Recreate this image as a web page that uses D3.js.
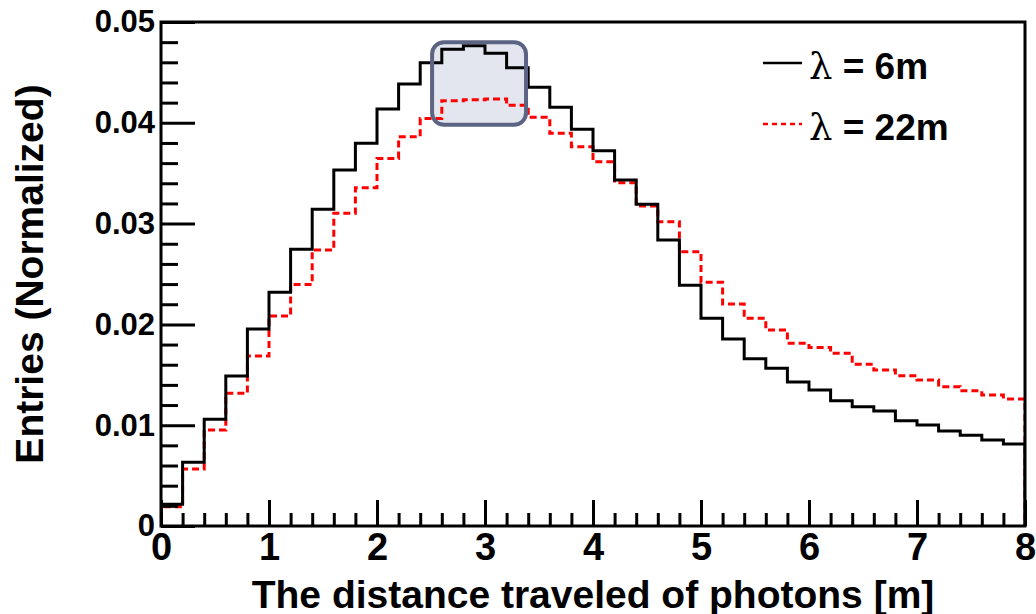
<!DOCTYPE html>
<html>
<head>
<meta charset="utf-8">
<script src="https://d3js.org/d3.v7.min.js"></script>
<style>
  body { margin: 0; background: #ffffff; }
  text { font-family: "Liberation Sans", Arial, Helvetica, sans-serif; font-weight: bold; fill: #000; }
</style>
</head>
<body>
<div id="chart"></div>
<script>
// bin lower edges (bin width 0.2 m)
var binLow = [0.0, 0.2, 0.4, 0.6, 0.8, 1.0, 1.2, 1.4, 1.6, 1.8,
  2.0, 2.2, 2.4, 2.6, 2.8, 3.0, 3.2, 3.4, 3.6, 3.8,
  4.0, 4.2, 4.4, 4.6, 4.8, 5.0, 5.2, 5.4, 5.6, 5.8,
  6.0, 6.2, 6.4, 6.6, 6.8, 7.0, 7.2, 7.4, 7.6, 7.8];
var binWidth = 0.2;

// lambda = 6m
var lambda6 = [0.00215, 0.00632, 0.01058, 0.01488, 0.01954, 0.02318, 0.02745, 0.03142, 0.03532, 0.03796,
  0.04137, 0.04385, 0.04596, 0.04729, 0.04765, 0.04689, 0.04547, 0.04352, 0.04154, 0.03935,
  0.03723, 0.03433, 0.03192, 0.02837, 0.02388, 0.02060, 0.01855, 0.01660, 0.01564, 0.01429,
  0.01349, 0.01243, 0.01184, 0.01141, 0.01045, 0.01002, 0.00942, 0.00900, 0.00853, 0.00813];

// lambda = 22m
var lambda22 = [0.00190, 0.00565, 0.00952, 0.01316, 0.01687, 0.02083, 0.02395, 0.02738, 0.03102, 0.03356,
  0.03647, 0.03862, 0.04042, 0.04219, 0.04229, 0.04236, 0.04173, 0.04054, 0.03896, 0.03763,
  0.03614, 0.03406, 0.03175, 0.03019, 0.02721, 0.02417, 0.02202, 0.02060, 0.01944, 0.01812,
  0.01772, 0.01713, 0.01604, 0.01548, 0.01491, 0.01448, 0.01382, 0.01343, 0.01300, 0.01260];

var xTicks = [0, 1, 2, 3, 4, 5, 6, 7, 8];
var yTicks = [0, 0.01, 0.02, 0.03, 0.04, 0.05];
var legendLabels = ["6m", "22m"];
var highlightRange = [2.51, 3.38];  // x range of the boxed peak region
var highlightLevel = [0.0480, 0.0398];

var svgWidth = 1036;
var svgHeight = 614;

var margin = { top: 22, right: 11, bottom: 88, left: 161 };
var width = svgWidth - margin.left - margin.right;
var height = svgHeight - margin.top - margin.bottom;

var svg = d3.select("#chart")
  .append("svg")
  .attr("width", svgWidth)
  .attr("height", svgHeight);

var chartGroup = svg.append("g")
  .attr("transform", `translate(${margin.left}, ${margin.top})`);

// scales
var xScale = d3.scaleLinear().domain([0, 8]).range([0, width]);
var yScale = d3.scaleLinear().domain([0, 0.05]).range([height, 0]);

svg.append("defs").append("clipPath").attr("id", "plotclip")
  .append("rect").attr("x", 0).attr("y", 0).attr("width", width).attr("height", height);

// highlight box fill (under the lines)
var hx0 = xScale(highlightRange[0]), hx1 = xScale(highlightRange[1]);
var hy0 = yScale(highlightLevel[0]), hy1 = yScale(highlightLevel[1]);
chartGroup.append("rect")
  .attr("x", hx0).attr("y", hy0)
  .attr("width", hx1 - hx0).attr("height", hy1 - hy0)
  .attr("rx", 12)
  .attr("fill", "#e3e6ef");

// step histograms
function histPoints(values) {
  var pts = [[0, 0]];
  values.forEach(function(v, i) { pts.push([binLow[i], v]); });
  var last = binLow[binLow.length - 1] + binWidth;
  pts.push([last, values[values.length - 1]]);
  pts.push([last, 0]);
  return pts;
}

var stepLine = d3.line()
  .x(d => xScale(d[0]))
  .y(d => yScale(d[1]))
  .curve(d3.curveStepAfter);

chartGroup.append("path")
  .attr("clip-path", "url(#plotclip)")
  .attr("d", stepLine(histPoints(lambda22)))
  .attr("fill", "none")
  .attr("stroke", "#ff0000")
  .attr("stroke-width", 3)
  .attr("stroke-dasharray", "7,4");

chartGroup.append("path")
  .attr("clip-path", "url(#plotclip)")
  .attr("d", stepLine(histPoints(lambda6)))
  .attr("fill", "none")
  .attr("stroke", "#000")
  .attr("stroke-width", 3);

// highlight box outline (over the lines)
chartGroup.append("rect")
  .attr("x", hx0).attr("y", hy0)
  .attr("width", hx1 - hx0).attr("height", hy1 - hy0)
  .attr("rx", 12)
  .attr("fill", "none")
  .attr("stroke", "#5c6483")
  .attr("stroke-width", 4);

// x axis: major + minor ticks pointing up
var xMinor = d3.range(0, 8.001, 0.2).filter(v => Math.abs(v - Math.round(v)) > 1e-6);
var xAxisG = chartGroup.append("g")
  .attr("transform", `translate(0, ${height})`)
  .call(d3.axisBottom(xScale).tickValues(xTicks).tickSizeInner(-26).tickSizeOuter(0)
    .tickPadding(7).tickFormat(d3.format("d")));
chartGroup.append("g")
  .attr("transform", `translate(0, ${height})`)
  .call(d3.axisBottom(xScale).tickValues(xMinor).tickSizeInner(-13).tickSizeOuter(0).tickFormat(""))
  .select(".domain").remove();
xAxisG.select(".domain").remove();
xAxisG.selectAll("text").style("font-size", "38px").attr("font-family", null);

// y axis
var yMinor = d3.range(0, 0.0501, 0.002).filter(v => Math.abs(v * 100 - Math.round(v * 100)) > 1e-6);
var yAxisG = chartGroup.append("g")
  .call(d3.axisLeft(yScale).tickValues(yTicks).tickSizeInner(-34).tickSizeOuter(0)
    .tickPadding(6).tickFormat(d => d === 0 ? "0" : d3.format(".2f")(d)));
chartGroup.append("g")
  .call(d3.axisLeft(yScale).tickValues(yMinor).tickSizeInner(-17).tickSizeOuter(0).tickFormat(""))
  .select(".domain").remove();
yAxisG.select(".domain").remove();
yAxisG.selectAll("text").style("font-size", "31px").attr("font-family", null);

chartGroup.selectAll(".tick line").attr("stroke", "#000").attr("stroke-width", 3);

// frame
chartGroup.append("rect")
  .attr("x", 0).attr("y", 0)
  .attr("width", width).attr("height", height)
  .attr("fill", "none")
  .attr("stroke", "#000")
  .attr("stroke-width", 3);

// axis titles
svg.append("text")
  .attr("transform", `translate(${margin.left + width / 2}, 608)`)
  .attr("text-anchor", "middle")
  .style("font-size", "39px")
  .text("The distance traveled of photons [m]");

svg.append("text")
  .attr("transform", `translate(43, ${margin.top + height / 2}) rotate(-90)`)
  .attr("text-anchor", "middle")
  .style("font-size", "39px")
  .text("Entries (Normalized)");

// legend
var legendRows = [
  { label: legendLabels[0], color: "#000", dash: null, y: 63 },
  { label: legendLabels[1], color: "#ff0000", dash: "5,4", y: 124 }
];
legendRows.forEach(function(row) {
  svg.append("line")
    .attr("x1", 763).attr("x2", 802)
    .attr("y1", row.y).attr("y2", row.y)
    .attr("stroke", row.color)
    .attr("stroke-width", 2.5)
    .attr("stroke-dasharray", row.dash);
  var t = svg.append("text")
    .attr("x", 809)
    .attr("y", row.y + 16)
    .style("font-size", "37px");
  t.append("tspan")
    .style("font-family", "'DejaVu Serif', 'Liberation Serif', serif")
    .style("font-weight", "normal")
    .text("\u03bb");
  t.append("tspan").text(" = " + row.label);
});
</script>
</body>
</html>
